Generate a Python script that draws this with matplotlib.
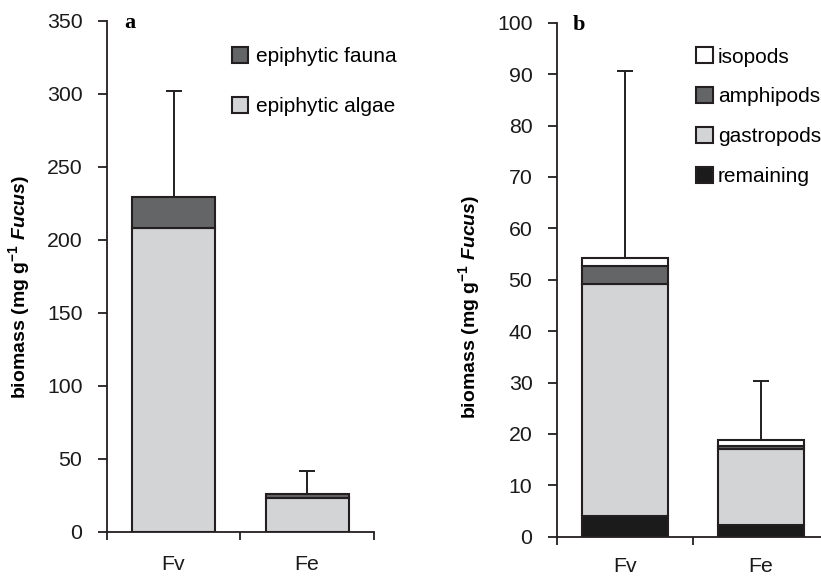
import matplotlib
matplotlib.use("Agg")
import matplotlib.pyplot as plt
import numpy as np

plt.rcParams['font.family'] = ['Liberation Sans', 'DejaVu Sans']
plt.rcParams['mathtext.fontset'] = 'custom'
plt.rcParams['mathtext.rm'] = 'Liberation Sans:bold'
plt.rcParams['mathtext.it'] = 'Liberation Sans:bold:italic'
plt.rcParams['mathtext.bf'] = 'Liberation Sans:bold'
plt.rcParams['mathtext.default'] = 'rm'

# ---- data ----
sites = ["Fv", "Fe"]
# panel a
algae = [208, 23.3]
fauna = [21.5, 2.8]
err_a = [72.5, 15.2]   # upper SD above stacked total
# panel b
remaining = [4.1, 2.3]
gastropods = [45.0, 14.8]
amphipods = [3.6, 0.5]
isopods = [1.5, 1.3]
err_b = [36.4, 11.4]

LIGHT = '#d3d4d6'
DARK = '#646567'
BLACK = '#1c1b1c'
EDGE = '#231f20'
LW = 1.5
TFS = 15.3

fig = plt.figure(figsize=(8.21, 5.8), dpi=100)
W, H = 821, 580

def axes_px(left, right, top, bottom):
    return fig.add_axes([left / W, 1 - bottom / H, (right - left) / W, (bottom - top) / H])

axa = axes_px(106.7, 374.0, 20.7, 531.7)
axb = axes_px(556.7, 828.7, 22.7, 536.7)

x = np.arange(len(sites)) + 0.5

def style(ax, ymax, step, cat_off):
    ax.set_xlim(0, 2)
    ax.set_ylim(0, ymax)
    ax.set_yticks(np.arange(0, ymax + 1e-9, step))
    ax.set_xticks([0, 1, 2])
    ax.set_xticklabels([])
    ax.tick_params(axis='x', which='major', direction='out', length=5.5, width=1.3, color=EDGE)
    ax.tick_params(axis='y', direction='out', length=6.5, width=1.3, color=EDGE,
                   labelsize=TFS, pad=11, labelcolor='#1a1a1a')
    for s in ['top', 'right']:
        ax.spines[s].set_visible(False)
    for s in ['left', 'bottom']:
        ax.spines[s].set_linewidth(1.3)
        ax.spines[s].set_color(EDGE)
    for xi, lab in zip(x, sites):
        ax.text(xi, -cat_off, lab, transform=ax.get_xaxis_transform(), ha='center', va='center',
                fontsize=TFS, color='#1a1a1a')
    ax.set_ylabel(r'biomass (mg g$^{-1}$ $\mathit{Fucus}$)', fontsize=14, fontweight='bold')

# ---- panel a ----
wa = 0.62
b1 = axa.bar(x, algae, wa, color=LIGHT, edgecolor=EDGE, linewidth=LW, label='epiphytic algae', zorder=2)
b2 = axa.bar(x, fauna, wa, bottom=algae, color=DARK, edgecolor=EDGE, linewidth=LW, label='epiphytic fauna', zorder=2)
tot_a = np.array(algae) + np.array(fauna)
axa.errorbar(x, tot_a, yerr=[np.zeros(2), err_a], fmt='none', ecolor=EDGE, elinewidth=1.4,
             capsize=5.5, capthick=1.4, zorder=1)
style(axa, 350, 50, 0.065)
axa.yaxis.set_label_coords(-0.279, 0.48)
axa.legend([b2, b1], ['epiphytic fauna', 'epiphytic algae'], loc='upper left',
           bbox_to_anchor=(0.467, 0.949), frameon=False, fontsize=15,
           handlelength=0.8, handleheight=0.8, handletextpad=0.38,
           labelspacing=1.47, borderpad=0, borderaxespad=0)
axa.text(0.065, 0.9857, 'a', transform=axa.transAxes, fontsize=16, fontweight='bold',
         family='Liberation Serif', ha='left', va='baseline')

# ---- panel b ----
wb = 0.63
bottoms = np.zeros(2)
handles = {}
for vals, col, lab in [(remaining, BLACK, 'remaining'), (gastropods, LIGHT, 'gastropods'),
                       (amphipods, DARK, 'amphipods'), (isopods, 'white', 'isopods')]:
    handles[lab] = axb.bar(x, vals, wb, bottom=bottoms, color=col, edgecolor=EDGE, linewidth=LW,
                           label=lab, zorder=2)
    bottoms = bottoms + np.array(vals)
axb.errorbar(x, bottoms, yerr=[np.zeros(2), err_b], fmt='none', ecolor=EDGE, elinewidth=1.4,
             capsize=5.5, capthick=1.4, zorder=1)
style(axb, 100, 10, 0.058)
axb.yaxis.set_label_coords(-0.275, 0.447)
order = ['isopods', 'amphipods', 'gastropods', 'remaining']
axb.legend([handles[k] for k in order], order, loc='upper left',
           bbox_to_anchor=(0.512, 0.952), frameon=False, fontsize=15,
           handlelength=0.8, handleheight=0.8, handletextpad=0.24,
           labelspacing=0.99, borderpad=0, borderaxespad=0)
axb.text(0.06, 0.9858, 'b', transform=axb.transAxes, fontsize=16, fontweight='bold',
         family='Liberation Serif', ha='left', va='baseline')

fig.savefig('out.png', dpi=100)
